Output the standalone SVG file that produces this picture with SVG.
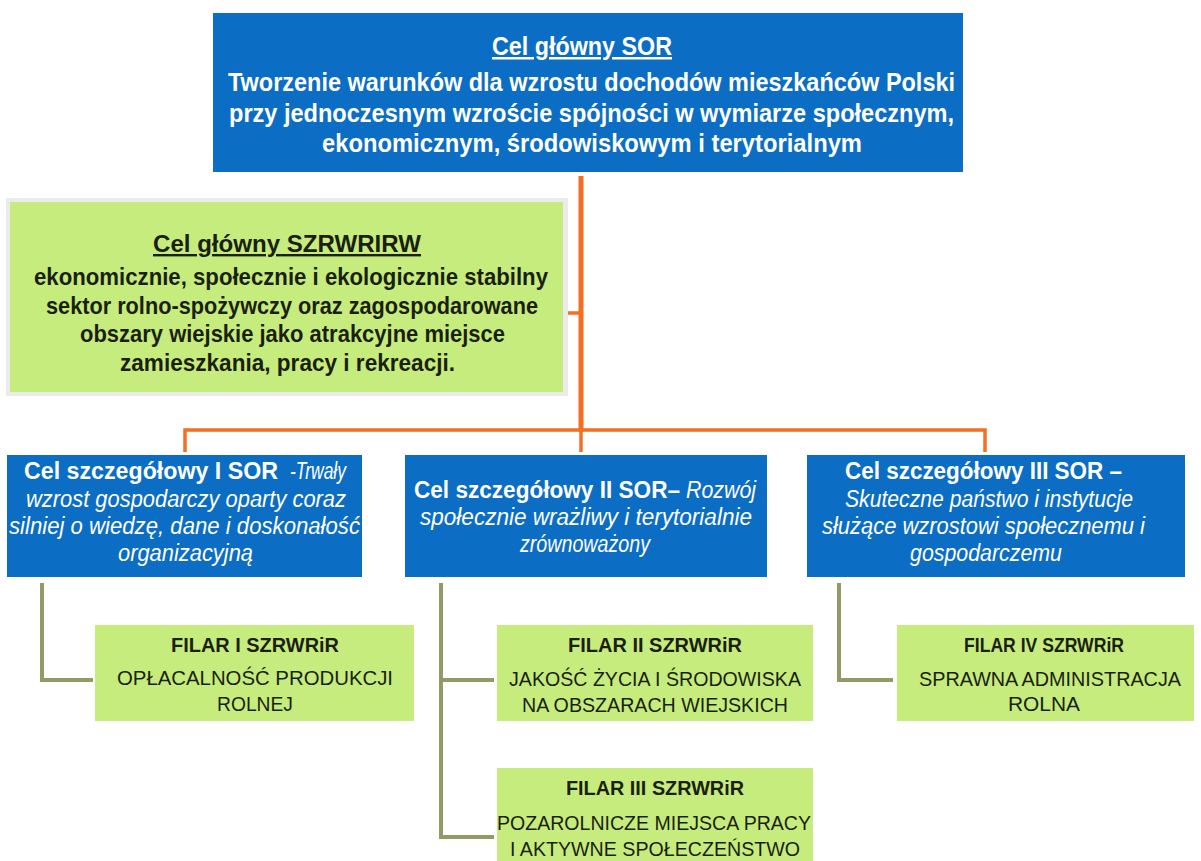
<svg xmlns="http://www.w3.org/2000/svg" width="1201" height="861" viewBox="0 0 1201 861">
<style>
.blue{fill:#0b6dc3}
.green{fill:#c6ec7e}
.wt{fill:#ffffff;font-family:"Liberation Sans",Arial,sans-serif}
.dk{fill:#1b1f10;font-family:"Liberation Sans",Arial,sans-serif}
.b{font-weight:bold}
.i{font-style:italic}
.m{text-anchor:middle}
.or{stroke:#f36f21;fill:none}
.ol{stroke:#949a63;stroke-width:4;fill:none}
</style>
<rect width="1201" height="861" fill="#ffffff"/>
<g id="connectors">
<path class="or" stroke-width="5" d="M581,176 V432"/>
<path class="or" stroke-width="3.5" d="M565,313 H581"/>
<path class="or" stroke-width="3.5" d="M185,452 V430 H985 V452"/>
<path class="or" stroke-width="3.5" d="M581,430 V452"/>
<path class="ol" d="M42,583 V680 H93"/>
<path class="ol" d="M441,583 V837 H494 M441,680 H494"/>
<path class="ol" d="M839,583 V680 H893"/>
</g>
<g id="top">
<rect class="blue" x="213" y="13" width="750" height="159"/>
<text class="wt b m" x="582" y="55" font-size="25" text-decoration="underline" textLength="180" lengthAdjust="spacingAndGlyphs">Cel główny SOR</text>
<text class="wt b" x="228" y="91" font-size="25" textLength="727" lengthAdjust="spacingAndGlyphs">Tworzenie warunków dla wzrostu dochodów mieszkańców Polski</text>
<text class="wt b" x="229" y="122" font-size="25" textLength="725" lengthAdjust="spacingAndGlyphs">przy jednoczesnym wzroście spójności w wymiarze społecznym,</text>
<text class="wt b" x="322" y="152" font-size="25" textLength="540" lengthAdjust="spacingAndGlyphs">ekonomicznym, środowiskowym i terytorialnym</text>
</g>
<g id="szrwrirw">
<rect x="6" y="198" width="562" height="198" fill="#ebebeb"/>
<rect class="green" x="10" y="202" width="553" height="190"/>
<text class="dk b m" x="287" y="252" font-size="24" text-decoration="underline" textLength="268" lengthAdjust="spacingAndGlyphs">Cel główny SZRWRIRW</text>
<text class="dk b" x="34" y="285" font-size="24" textLength="514" lengthAdjust="spacingAndGlyphs">ekonomicznie, społecznie i ekologicznie stabilny</text>
<text class="dk b" x="46" y="314" font-size="24" textLength="492" lengthAdjust="spacingAndGlyphs">sektor rolno-spożywczy oraz zagospodarowane</text>
<text class="dk b" x="80" y="342" font-size="24" textLength="425" lengthAdjust="spacingAndGlyphs">obszary wiejskie jako atrakcyjne miejsce</text>
<text class="dk b" x="120" y="371" font-size="24" textLength="335" lengthAdjust="spacingAndGlyphs">zamieszkania, pracy i rekreacji.</text>
</g>
<g id="sor1">
<rect class="blue" x="7" y="455" width="355" height="122"/>
<text class="wt b" x="24" y="479" font-size="23" textLength="254" lengthAdjust="spacingAndGlyphs">Cel szczegółowy I SOR</text>
<text class="wt i" x="290" y="479" font-size="23" textLength="56" lengthAdjust="spacingAndGlyphs">-Trwały</text>
<text class="wt i" x="26" y="507" font-size="23" textLength="320" lengthAdjust="spacingAndGlyphs">wzrost gospodarczy oparty coraz</text>
<text class="wt i" x="9" y="534" font-size="23" textLength="351" lengthAdjust="spacingAndGlyphs">silniej o wiedzę, dane i doskonałość</text>
<text class="wt i" x="118" y="561" font-size="23" textLength="135" lengthAdjust="spacingAndGlyphs">organizacyjną</text>
</g>
<g id="sor2">
<rect class="blue" x="405" y="455" width="362" height="122"/>
<text class="wt b" x="414" y="498" font-size="23" textLength="266" lengthAdjust="spacingAndGlyphs">Cel szczegółowy II SOR–</text>
<text class="wt i" x="686" y="498" font-size="23" textLength="70" lengthAdjust="spacingAndGlyphs">Rozwój</text>
<text class="wt i" x="420" y="525" font-size="23" textLength="332" lengthAdjust="spacingAndGlyphs">społecznie wrażliwy i terytorialnie</text>
<text class="wt i" x="520" y="552" font-size="23" textLength="130" lengthAdjust="spacingAndGlyphs">zrównoważony</text>
</g>
<g id="sor3">
<rect class="blue" x="807" y="455" width="378" height="122"/>
<text class="wt b" x="845" y="479" font-size="23" textLength="277" lengthAdjust="spacingAndGlyphs">Cel szczegółowy III SOR –</text>
<text class="wt i" x="845" y="507" font-size="23" textLength="288" lengthAdjust="spacingAndGlyphs">Skuteczne państwo i instytucje</text>
<text class="wt i" x="822" y="534" font-size="23" textLength="323" lengthAdjust="spacingAndGlyphs">służące wzrostowi społecznemu i</text>
<text class="wt i" x="910" y="561" font-size="23" textLength="152" lengthAdjust="spacingAndGlyphs">gospodarczemu</text>
</g>
<g id="filar1">
<rect class="green" x="95" y="625" width="319" height="96"/>
<text class="dk b m" x="255" y="652" font-size="20" textLength="168" lengthAdjust="spacingAndGlyphs">FILAR I SZRWRiR</text>
<text class="dk m" x="255" y="685" font-size="21" textLength="276" lengthAdjust="spacingAndGlyphs">OPŁACALNOŚĆ PRODUKCJI</text>
<text class="dk m" x="255" y="711" font-size="21" textLength="76" lengthAdjust="spacingAndGlyphs">ROLNEJ</text>
</g>
<g id="filar2">
<rect class="green" x="497" y="625" width="316" height="96"/>
<text class="dk b m" x="655" y="652" font-size="20" textLength="174" lengthAdjust="spacingAndGlyphs">FILAR II SZRWRiR</text>
<text class="dk m" x="655" y="686" font-size="21" textLength="292" lengthAdjust="spacingAndGlyphs">JAKOŚĆ ŻYCIA I ŚRODOWISKA</text>
<text class="dk m" x="655" y="712" font-size="21" textLength="266" lengthAdjust="spacingAndGlyphs">NA OBSZARACH WIEJSKICH</text>
</g>
<g id="filar3">
<rect class="green" x="497" y="768" width="316" height="93"/>
<text class="dk b m" x="655" y="795" font-size="20" textLength="178" lengthAdjust="spacingAndGlyphs">FILAR III SZRWRiR</text>
<text class="dk m" x="654" y="830" font-size="21" textLength="314" lengthAdjust="spacingAndGlyphs">POZAROLNICZE MIEJSCA PRACY</text>
<text class="dk m" x="655" y="856" font-size="21" textLength="290" lengthAdjust="spacingAndGlyphs">I AKTYWNE SPOŁECZEŃSTWO</text>
</g>
<g id="filar4">
<rect class="green" x="897" y="625" width="297" height="96"/>
<text class="dk b m" x="1044" y="652" font-size="20" textLength="160" lengthAdjust="spacingAndGlyphs">FILAR IV SZRWRiR</text>
<text class="dk m" x="1050" y="686" font-size="21" textLength="262" lengthAdjust="spacingAndGlyphs">SPRAWNA ADMINISTRACJA</text>
<text class="dk m" x="1044" y="711" font-size="21" textLength="72" lengthAdjust="spacingAndGlyphs">ROLNA</text>
</g>
</svg>
